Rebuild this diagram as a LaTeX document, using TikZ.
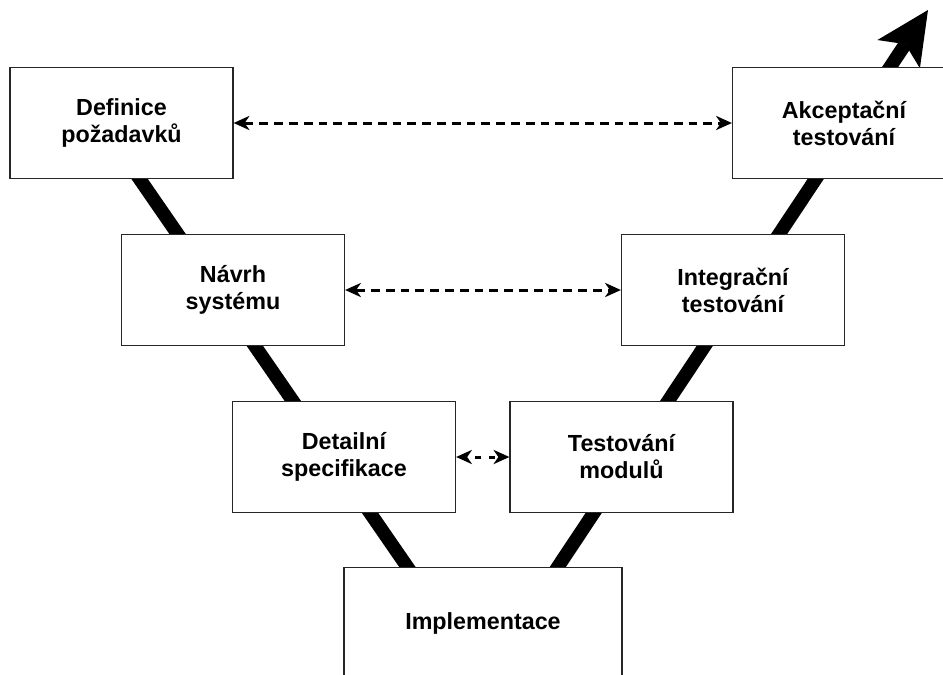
\documentclass[tikz,border=0pt]{standalone}
\usepackage{fontspec}
\setmainfont{Liberation Sans}
\usetikzlibrary{arrows.meta}

\begin{document}
\begin{tikzpicture}[x=1pt, y=-1pt,
  phase/.style={draw=black!85, line width=1.3pt, fill=white, inner sep=0pt,
    minimum width=223pt, minimum height=111pt, align=center,
    font=\fontsize{23.3pt}{27pt}\selectfont\bfseries},
  vline/.style={line width=13.5pt, line join=miter,
    -{Stealth[length=53pt, width=51pt, inset=12pt, line width=0pt]}},
  link/.style={line width=3pt, dash pattern=on 8.8pt off 6pt,
    {Stealth[length=16pt, width=14.5pt, inset=5pt, line width=0pt]}-{Stealth[length=16pt, width=14.5pt, inset=5pt, line width=0pt]}}
]
\clip (0,0) rectangle (943,675);
\fill[white] (0,0) rectangle (943,675);

% course of the V model, drawn first so the boxes cover it
\coordinate (vstart) at (101,123);
\coordinate (vbottom) at (484,678);
\coordinate (vend) at (928,10);
\draw[vline] (vstart) -- (vbottom) -- (vend);

% left branch: specification
\node[phase] (def) at (121.5,123) {Definice\\požadavků};
\node[phase] (nav) at (233,290) {Návrh\\systému};
\node[phase] (det) at (344,457) {Detailní\\specifikace};

% bottom
\node[phase, minimum width=278pt] (imp) at (483,623) {Implementace};

% right branch: testing
\node[phase] (tst) at (621.5,457) {Testování\\modulů};
\node[phase] (int) at (733,290) {Integrační\\testování};
\node[phase] (acc) at (844,123) {Akceptační\\testování};

% correspondences between the branches
\draw[link] (def.east) -- (acc.west);
\draw[link] (nav.east) -- (int.west);
\draw[link, dash pattern=on 6pt off 8pt, dash phase=6pt] (det.east) -- (tst.west);
\end{tikzpicture}
\end{document}
